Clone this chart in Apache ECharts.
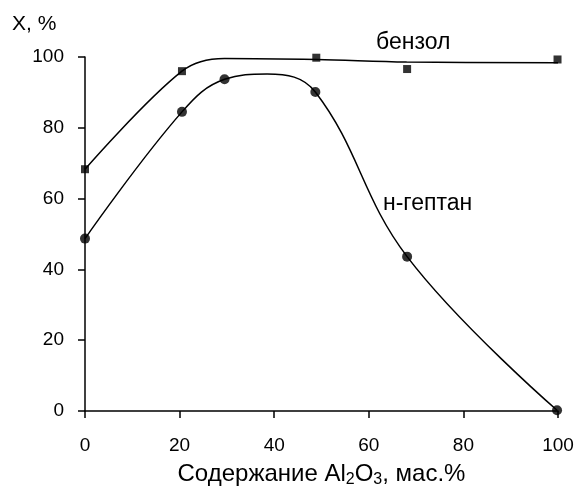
<!DOCTYPE html>
<html>
<head>
<meta charset="utf-8">
<script src="https://cdn.jsdelivr.net/npm/echarts@6/dist/echarts.min.js"></script>
<style>
  html, body { margin: 0; padding: 0; background: #fff; }
  #chart { width: 579px; height: 488px; }
</style>
</head>
<body>
<div id="chart"></div>
<script>
// Содержание Al2O3, мас.% — measured points
const benzeneX = [0, 20.5, 29.5, 48.9, 68.1, 99.9];
const benzeneY = [68.3, 96.0, 100.1, 99.8, 96.6, 99.3];
const heptaneX = [0, 20.5, 29.5, 48.7, 68.1, 99.8];
const heptaneY = [48.7, 84.5, 93.7, 90.1, 43.6, 0.2];

// Smoothed curves drawn through / near the points
const benzeneCurveX = [0, 20.5, 29.5, 49, 68, 100];
const benzeneCurveY = [68.3, 96.0, 99.6, 99.3, 98.6, 98.4];
const heptaneCurveX = [0, 20.5, 29.5, 38.5, 48.7, 68.1, 99.8];
const heptaneCurveY = [48.7, 84.5, 93.7, 95.2, 90.1, 43.6, 0.2];

const axisMin = 0, axisMax = 100, axisStep = 20;

const FONT = '"Liberation Sans", Arial, sans-serif';
const zip = (xs, ys) => xs.map((x, i) => [x, ys[i]]);

const chart = echarts.init(document.getElementById('chart'), null, { renderer: 'canvas' });

chart.setOption({
  animation: false,
  backgroundColor: '#ffffff',
  grid: { left: 85, right: 21, top: 57, bottom: 77, containLabel: false, outerBoundsMode: 'none' },
  xAxis: {
    type: 'value',
    min: axisMin, max: axisMax, interval: axisStep,
    splitLine: { show: false },
    axisLine: { show: true, onZero: false, lineStyle: { color: '#000', width: 1.5 } },
    axisTick: { show: true, inside: false, length: 7, lineStyle: { color: '#000', width: 1.5 } },
    axisLabel: { color: '#000', fontFamily: FONT, fontSize: 19, margin: 25 },
    name: '{n|Содержание Al}{s|2}{n|O}{s|3}{n|, мас.%}',
    nameLocation: 'middle',
    nameGap: 49,
    nameTextStyle: {
      rich: {
        n: { color: '#000', fontFamily: FONT, fontSize: 24, lineHeight: 28 },
        s: { color: '#000', fontFamily: FONT, fontSize: 16, lineHeight: 28, padding: [12, 0, 0, 0] }
      }
    }
  },
  yAxis: {
    type: 'value',
    min: axisMin, max: axisMax, interval: axisStep,
    splitLine: { show: false },
    axisLine: { show: true, onZero: false, lineStyle: { color: '#000', width: 1.5 } },
    axisTick: { show: true, inside: false, length: 7, lineStyle: { color: '#000', width: 1.5 } },
    axisLabel: { color: '#000', fontFamily: FONT, fontSize: 19, margin: 21 }
  },
  graphic: [
    { type: 'text', left: 12, top: 14,
      style: { text: 'X, %', font: '21px ' + FONT, fill: '#000' } },
    { type: 'text', left: 376, top: 31,
      style: { text: 'бензол', font: '23px ' + FONT, fill: '#000' } },
    { type: 'text', left: 383, top: 192,
      style: { text: 'н-гептан', font: '23px ' + FONT, fill: '#000' } }
  ],
  series: [
    {
      name: 'бензол-кривая', type: 'line', data: zip(benzeneCurveX, benzeneCurveY),
      smooth: 0.35, showSymbol: false, silent: true,
      lineStyle: { color: '#000', width: 1.5 }
    },
    {
      name: 'н-гептан-кривая', type: 'line', data: zip(heptaneCurveX, heptaneCurveY),
      smooth: 0.4, showSymbol: false, silent: true,
      lineStyle: { color: '#000', width: 1.5 }
    },
    {
      name: 'бензол', type: 'scatter', data: zip(benzeneX, benzeneY),
      symbol: 'rect', symbolSize: 8, itemStyle: { color: '#000' }
    },
    {
      name: 'н-гептан', type: 'scatter', data: zip(heptaneX, heptaneY),
      symbol: 'circle', symbolSize: 10, itemStyle: { color: '#000' }
    }
  ]
});
</script>
</body>
</html>
